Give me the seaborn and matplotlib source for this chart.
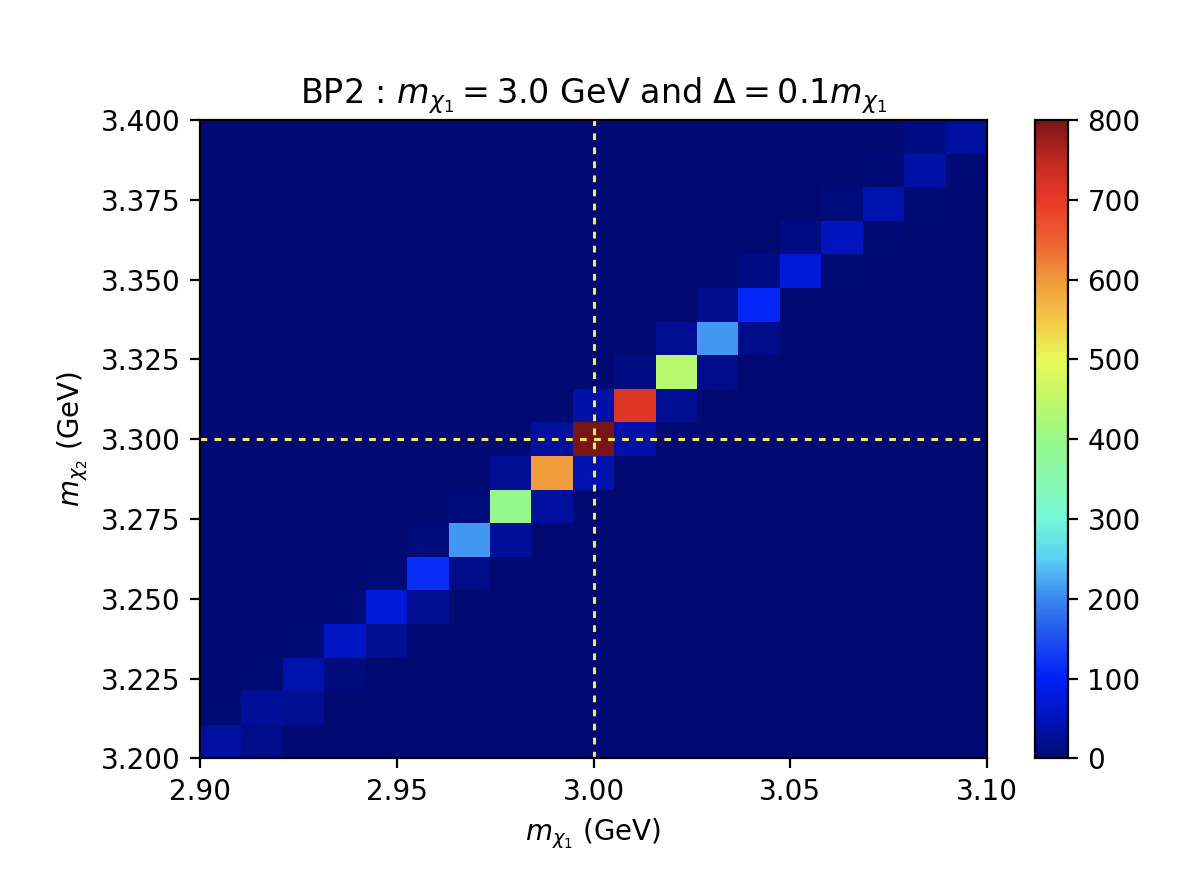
import numpy as np
import pandas as pd
import matplotlib
matplotlib.use("Agg")
import matplotlib.pyplot as plt
from matplotlib.colors import LinearSegmentedColormap
import seaborn as sns

# 19 x 19 bins spanning the plot range
x_edges = np.linspace(2.90, 3.10, 20)
y_edges = np.linspace(3.20, 3.40, 20)

# counts in the diagonal cells (col i, row i)
diag = [30, 28, 40, 55, 78, 115, 212, 395, 598, 800, 710, 440, 212, 108, 78, 50, 40, 35, 30]
# counts one row above the diagonal (col i, row i+1)
above = [5, 6, 5, 6, 6, 8, 8, 24, 30, 35, 12, 22, 18, 12, 12, 8, 6, 12]
# counts one column right of the diagonal (col i+1, row i)
right = [18, 24, 8, 24, 24, 18, 28, 30, 38, 35, 24, 18, 16, 3, 4, 5, 5, 6]

x_ticks = [2.90, 2.95, 3.00, 3.05, 3.10]
y_ticks = [3.200, 3.225, 3.250, 3.275, 3.300, 3.325, 3.350, 3.375, 3.400]
cbar_ticks = [0, 100, 200, 300, 400, 500, 600, 700, 800]

# build one weighted point per non-empty cell, at the cell centre
xc = (x_edges[:-1] + x_edges[1:]) / 2
yc = (y_edges[:-1] + y_edges[1:]) / 2
rows = []
for i, n in enumerate(diag):
    rows.append((xc[i], yc[i], n))
for i, n in enumerate(above):
    rows.append((xc[i], yc[i + 1], n))
for i, n in enumerate(right):
    rows.append((xc[i + 1], yc[i], n))
df = pd.DataFrame(rows, columns=["m1", "m2", "n"])

# jet, but with the slightly softened tones seen in the original
jet_soft = LinearSegmentedColormap.from_list("jet_soft", [
    "#000a72", "#0014c0", "#0020f8", "#2050f0", "#3a88f0", "#5ad0f5",
    "#78f8d8", "#88f8b0", "#98f888", "#c0f868", "#e8fa58", "#f5c848",
    "#f09a3c", "#ec6030", "#e83a28", "#c02a20", "#7a1515",
])

fig = plt.figure(figsize=(6, 4.45), dpi=200)
ax = fig.add_axes([0.1667, 0.148, 0.6558, 0.717])
cax = fig.add_axes([0.8625, 0.148, 0.0275, 0.717])

sns.histplot(
    data=df, x="m1", y="m2", weights="n",
    bins=[x_edges, y_edges], thresh=None,
    cmap=jet_soft, vmin=0, vmax=800,
    cbar=True, cbar_ax=cax, ax=ax,
)

# benchmark point
ax.axvline(3.0, color="#f8e85a", ls=(0, (2.2, 2.4)), lw=1.1)
ax.axhline(3.3, color="#f8e85a", ls=(0, (2.2, 2.4)), lw=1.1)

ax.set_xlim(2.90, 3.10)
ax.set_ylim(3.20, 3.40)
ax.set_xticks(x_ticks)
ax.set_xticklabels([f"{t:.2f}" for t in x_ticks])
ax.set_yticks(y_ticks)
ax.set_yticklabels([f"{t:.3f}" for t in y_ticks])
cax.set_yticks(cbar_ticks)

ax.set_title(r"BP2 : $m_{\chi_1} = 3.0$ GeV and $\Delta = 0.1m_{\chi_1}$", fontsize=12)
ax.set_xlabel(r"$m_{\chi_1}$ (GeV)")
ax.set_ylabel(r"$m_{\chi_2}$ (GeV)")

fig.savefig("out.png", dpi=200)
